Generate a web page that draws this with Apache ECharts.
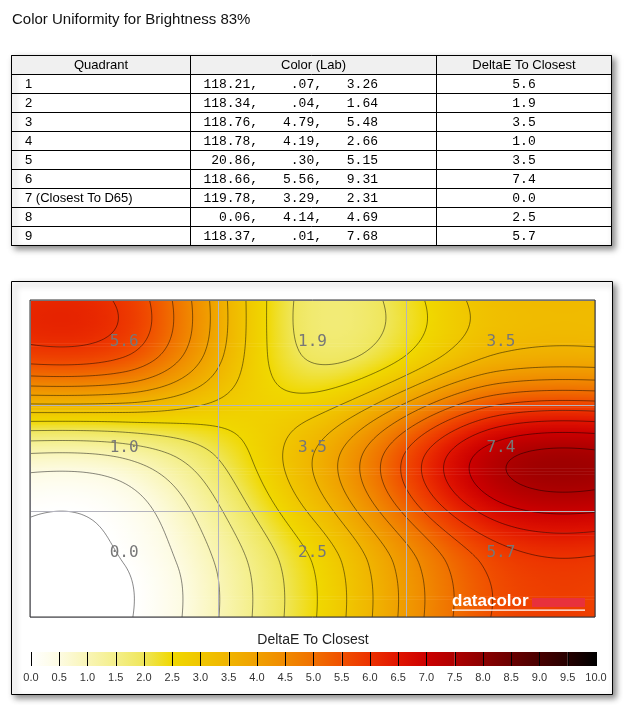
<!DOCTYPE html>
<html>
<head>
<meta charset="utf-8">
<title>Color Uniformity for Brightness 83%</title>
<script src="https://cdn.jsdelivr.net/npm/echarts@6.0.0/dist/echarts.min.js"></script>
<style>
  html, body { margin: 0; padding: 0; background: #fff; }
  #chart { width: 630px; height: 710px; }
</style>
</head>
<body>
<div id="chart"></div>
<script>
// measured quadrants, row by row starting top-left
const quadrants = ['1', '2', '3', '4', '5', '6', '7 (Closest To D65)', '8', '9'];
const labL = [118.21, 118.34, 118.76, 118.78, 20.86, 118.66, 119.78, 0.06, 118.37];
const labA = [0.07, 0.04, 4.79, 4.19, 0.30, 5.56, 3.29, 4.14, 0.01];
const labB = [3.26, 1.64, 5.48, 2.66, 5.15, 9.31, 2.31, 4.69, 7.68];
const deltaE = [5.6, 1.9, 3.5, 1.0, 3.5, 7.4, 0.0, 2.5, 5.7];
const headers = ['Quadrant', 'Color (Lab)', 'DeltaE To Closest'];
// colour scale ticks, also used as contour levels
const scaleTicks = [0, 0.5, 1, 1.5, 2, 2.5, 3, 3.5, 4, 4.5, 5, 5.5, 6, 6.5, 7, 7.5, 8, 8.5, 9, 9.5, 10];

const FONT = '"Liberation Sans", Arial, sans-serif';
const MONO = '"Liberation Mono", "Courier New", monospace';

// colour ramp of the scale (value -> colour)
const ramp = [
  [0, '#ffffff'], [0.5, '#fdfbe2'], [1, '#f9f5b6'], [1.5, '#f4ef8a'], [2, '#efe65a'],
  [2.5, '#f0d800'], [3, '#f0c600'], [3.5, '#f0b400'], [4, '#f0a000'], [4.5, '#f08a00'],
  [5, '#f07000'], [5.5, '#f05000'], [6, '#ec3200'], [6.5, '#e01400'], [7, '#cc0000'],
  [7.5, '#ae0000'], [8, '#8c0000'], [8.5, '#6a0000'], [9, '#480000'], [9.5, '#260000'],
  [10, '#000000']
];
const rampRgb = ramp.map(s => [s[0], parseInt(s[1].slice(1, 3), 16), parseInt(s[1].slice(3, 5), 16), parseInt(s[1].slice(5, 7), 16)]);

function colorAt(v) {
  v = Math.max(0, Math.min(10, v));
  for (let i = 0; i < rampRgb.length - 1; i++) {
    const a = rampRgb[i], b = rampRgb[i + 1];
    if (v <= b[0]) {
      const t = (v - a[0]) / (b[0] - a[0]);
      return 'rgb(' + Math.round(a[1] + (b[1] - a[1]) * t) + ',' +
        Math.round(a[2] + (b[2] - a[2]) * t) + ',' + Math.round(a[3] + (b[3] - a[3]) * t) + ')';
    }
  }
  return '#000';
}

// 3x3 grid of the measurements, smoothed with a catmull-rom surface for shading
const cells = deltaE.map((v, k) => [k % 3, Math.floor(k / 3), v]);
function cellVal(r, c) {
  r = Math.max(0, Math.min(2, r));
  c = Math.max(0, Math.min(2, c));
  return deltaE[r * 3 + c];
}
function cr(p0, p1, p2, p3, s) {
  return 0.5 * (2 * p1 + (-p0 + p2) * s + (2 * p0 - 5 * p1 + 4 * p2 - p3) * s * s +
    (-p0 + 3 * p1 - 3 * p2 + p3) * s * s * s);
}
function surface(u, v) {
  const tx = u - 0.5, ty = v - 0.5;
  const ix = Math.floor(tx), iy = Math.floor(ty);
  const sx = tx - ix, sy = ty - iy;
  const rows = [];
  for (let m = -1; m <= 2; m++) {
    const r = iy + m;
    rows.push(cr(cellVal(r, ix - 1), cellVal(r, ix), cellVal(r, ix + 1), cellVal(r, ix + 2), sx));
  }
  return cr(rows[0], rows[1], rows[2], rows[3], sy);
}

function renderCell(params, api) {
  const col = api.value(0), row = api.value(1);
  const p0 = api.coord([col, row]);
  const p1 = api.coord([col + 1, row + 1]);
  const x0 = Math.min(p0[0], p1[0]), y0 = Math.min(p0[1], p1[1]);
  const w = Math.abs(p1[0] - p0[0]), h = Math.abs(p1[1] - p0[1]);
  const children = [];

  // shading, one gradient strip per pixel row band
  const nRows = Math.ceil(h / 1.5), nStops = 40;
  for (let j = 0; j < nRows; j++) {
    const f0 = j / nRows, f1 = (j + 1) / nRows;
    const v = row + (f0 + f1) / 2;
    const stops = [];
    for (let k = 0; k <= nStops; k++) {
      stops.push({ offset: k / nStops, color: colorAt(surface(col + k / nStops, v)) });
    }
    children.push({
      type: 'rect',
      shape: { x: x0, y: y0 + f0 * h, width: w, height: (f1 - f0) * h + (j < nRows - 1 ? 0.7 : 0) },
      style: { fill: { type: 'linear', x: 0, y: 0, x2: 1, y2: 0, colorStops: stops } }
    });
  }

  // contour lines (marching squares)
  const nx = Math.round(w / 3), ny = Math.round(h / 3);
  const vals = [];
  for (let j = 0; j <= ny; j++) {
    const r = [];
    for (let i = 0; i <= nx; i++) r.push(surface(col + i / nx, row + j / ny));
    vals.push(r);
  }
  let d = '';
  const X = i => x0 + i * w / nx, Y = j => y0 + j * h / ny;
  for (let j = 0; j < ny; j++) {
    for (let i = 0; i < nx; i++) {
      const a = vals[j][i], b = vals[j][i + 1], c = vals[j + 1][i + 1], e = vals[j + 1][i];
      const lo = Math.min(a, b, c, e), hi = Math.max(a, b, c, e);
      for (const L of scaleTicks) {
        if (L < lo || L > hi) continue;
        const pts = [];
        const edge = (va, vb, xa, ya, xb, yb) => {
          if ((va < L) !== (vb < L)) {
            const t = (L - va) / (vb - va);
            pts.push([xa + (xb - xa) * t, ya + (yb - ya) * t]);
          }
        };
        edge(a, b, X(i), Y(j), X(i + 1), Y(j));
        edge(b, c, X(i + 1), Y(j), X(i + 1), Y(j + 1));
        edge(c, e, X(i + 1), Y(j + 1), X(i), Y(j + 1));
        edge(e, a, X(i), Y(j + 1), X(i), Y(j));
        for (let q = 0; q + 1 < pts.length; q += 2) {
          d += 'M' + pts[q][0].toFixed(2) + ' ' + pts[q][1].toFixed(2) +
            'L' + pts[q + 1][0].toFixed(2) + ' ' + pts[q + 1][1].toFixed(2);
        }
      }
    }
  }
  if (d) {
    children.push({
      type: 'path',
      shape: { pathData: d },
      style: { fill: null, stroke: 'rgba(0,0,0,0.52)', lineWidth: 0.9 }
    });
  }

  const c = api.coord([col + 0.5, row + 0.5]);
  children.push({
    type: 'text',
    x: c[0], y: c[1] - 11,
    style: {
      text: api.value(2).toFixed(1),
      font: '16px "DejaVu Sans Mono", monospace',
      fill: '#777777', align: 'center', verticalAlign: 'middle'
    }
  });
  return { type: 'group', children: children };
}

function renderBand(params, api) {
  const lo = api.value(0), hi = api.value(1);
  const a = api.coord([lo, 1]), b = api.coord([hi, 0]);
  return {
    type: 'rect',
    shape: { x: a[0], y: a[1], width: b[0] - a[0], height: b[1] - a[1] },
    style: {
      fill: {
        type: 'linear', x: 0, y: 0, x2: 1, y2: 0,
        colorStops: [{ offset: 0, color: colorAt(lo) }, { offset: 1, color: colorAt(hi) }]
      }
    }
  };
}

// table + frame drawn as graphic elements
function text(x, y, str, font, align) {
  return {
    type: 'text', x: x, y: y, z: 20,
    style: { text: str, font: font, fill: '#000', align: align, verticalAlign: 'middle' }
  };
}
function hline(x1, x2, y) {
  return { type: 'line', z: 20, shape: { x1: x1, y1: y, x2: x2, y2: y }, style: { stroke: '#000', lineWidth: 1 } };
}
function vline(x, y1, y2) {
  return { type: 'line', z: 20, shape: { x1: x, y1: y1, x2: x, y2: y2 }, style: { stroke: '#000', lineWidth: 1 } };
}
const fmtAB = v => v.toFixed(2).replace(/^0\./, '.');

const tblX = [11.5, 190.5, 436.5, 611.5];
const tblTop = 55.5, headH = 19, rowH = 19;
const tblBottom = tblTop + headH + rowH * quadrants.length;
const shadow = { shadowBlur: 6, shadowOffsetX: 3, shadowOffsetY: 3, shadowColor: 'rgba(0,0,0,0.45)' };

const elements = [];
elements.push({
  type: 'rect', z: 10,
  shape: { x: tblX[0], y: tblTop, width: tblX[3] - tblX[0], height: tblBottom - tblTop },
  style: Object.assign({ fill: '#fff', stroke: '#000', lineWidth: 1 }, shadow)
});
elements.push({
  type: 'rect', z: 11,
  shape: { x: tblX[0], y: tblTop, width: tblX[3] - tblX[0], height: headH },
  style: { fill: '#f0f0f0' }
});
for (let i = 0; i <= quadrants.length + 1; i++) {
  elements.push(hline(tblX[0], tblX[3], tblTop + (i === 0 ? 0 : headH + rowH * (i - 1))));
}
tblX.forEach(x => elements.push(vline(x, tblTop, tblBottom)));
headers.forEach((h, k) => elements.push(text((tblX[k] + tblX[k + 1]) / 2, tblTop + headH / 2 + 0.5, h, '13px ' + FONT, 'center')));
quadrants.forEach((q, i) => {
  const y = tblTop + headH + rowH * i + rowH / 2 + 0.5;
  elements.push(text(25, y, q, '13px ' + FONT, 'left'));
  elements.push(text(258, y, labL[i].toFixed(2) + ',', '13px ' + MONO, 'right'));
  elements.push(text(322, y, fmtAB(labA[i]) + ',', '13px ' + MONO, 'right'));
  elements.push(text(378, y, fmtAB(labB[i]), '13px ' + MONO, 'right'));
  elements.push(text((tblX[2] + tblX[3]) / 2, y, deltaE[i].toFixed(1), '13px ' + MONO, 'center'));
});

// outer frame of the map
elements.push({
  type: 'rect', z: 0,
  shape: { x: 11.5, y: 281.5, width: 601, height: 413 },
  style: Object.assign({ fill: '#fff', stroke: '#000', lineWidth: 1 }, shadow)
});

// datacolor mark
elements.push({
  type: 'text', x: 452, y: 601, z: 30,
  style: { text: 'datacolor', font: 'bold 17px ' + FONT, fill: '#fff', align: 'left', verticalAlign: 'middle' }
});
elements.push({ type: 'rect', z: 30, shape: { x: 532, y: 598, width: 53, height: 9 }, style: { fill: '#e8313c' } });
elements.push({ type: 'rect', z: 30, shape: { x: 452, y: 609.5, width: 133, height: 1.3 }, style: { fill: '#fff' } });

const chart = echarts.init(document.getElementById('chart'), null, { renderer: 'canvas' });
chart.setOption({
  animation: false,
  backgroundColor: '#fff',
  title: [
    {
      text: 'Color Uniformity for Brightness 83%', left: 12, top: 12, padding: 0,
      textStyle: { fontFamily: FONT, fontSize: 15, fontWeight: 'normal', color: '#111' }
    },
    {
      text: 'DeltaE To Closest', left: 313, top: 633, padding: 0, textAlign: 'center',
      textStyle: { fontFamily: FONT, fontSize: 14, fontWeight: 'normal', color: '#222' }
    }
  ],
  grid: [
    { left: 30, top: 300, width: 565, height: 317, show: true, backgroundColor: 'transparent', borderColor: '#333', borderWidth: 1, z: 10 },
    { left: 31, top: 652, width: 565, height: 14 }
  ],
  xAxis: [
    {
      type: 'value', gridIndex: 0, min: 0, max: 3, interval: 1, z: 8,
      axisLine: { show: false }, axisTick: { show: false }, axisLabel: { show: false },
      splitLine: { show: true, lineStyle: { color: '#b4b4be', width: 1 } }
    },
    {
      type: 'value', gridIndex: 1, min: 0, max: 10, interval: 0.5, z: 8,
      axisLine: { show: false }, axisTick: { show: false },
      axisLabel: { formatter: v => v.toFixed(1), color: '#333', fontSize: 11, fontFamily: FONT, margin: 6 },
      splitLine: { show: true, lineStyle: { color: '#000', width: 1 } }
    }
  ],
  yAxis: [
    {
      type: 'value', gridIndex: 0, min: 0, max: 3, interval: 1, inverse: true, z: 8,
      axisLine: { show: false }, axisTick: { show: false }, axisLabel: { show: false },
      splitLine: { show: true, lineStyle: { color: '#b4b4be', width: 1 } }
    },
    { type: 'value', gridIndex: 1, min: 0, max: 1, show: false, splitLine: { show: false } }
  ],
  series: [
    {
      type: 'custom', xAxisIndex: 0, yAxisIndex: 0, z: 2,
      data: cells, encode: { x: 0, y: 1 },
      renderItem: renderCell
    },
    {
      type: 'custom', xAxisIndex: 1, yAxisIndex: 1, z: 2,
      data: scaleTicks.slice(0, -1).map((t, k) => [t, scaleTicks[k + 1], 1]),
      encode: { x: [0, 1], y: 2 },
      renderItem: renderBand
    }
  ],
  graphic: { elements: elements }
});
</script>
</body>
</html>
